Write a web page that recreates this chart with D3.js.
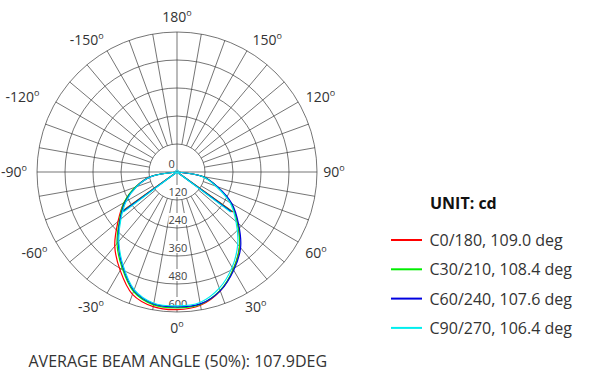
<!DOCTYPE html>
<html lang="en">
<head>
    <meta charset="UTF-8">
    <title>Polar Light Distribution</title>
    <script src="https://d3js.org/d3.v7.min.js"></script>
    <style>
        body { margin: 0; background: #fff; }
        svg { display: block; font-family: "Open Sans", sans-serif; }
        .grid { fill: none; stroke: #3a3a3a; stroke-width: 0.7; }
        .angle-label { font-size: 14px; fill: #333; }
        .ring-label { font-size: 11px; fill: #444; }
        .curve { fill: none; stroke-width: 1.2; }
    </style>
</head>
<body>
    <svg id="chart" width="591" height="387"></svg>

    <script>
        // angles (deg), 0 = straight down, positive to the right
        var angles = [-90, -80, -70, -60, -50, -40, -30, -20, -10, 0, 10, 20, 30, 40, 50, 60, 70, 80, 90];

        // intensity (cd) per C-plane
        var c0_180  = [0, 114, 189, 262, 330, 415, 487, 558, 586, 590, 580, 542, 482, 416, 338, 266, 182, 112, 0];
        var c30_210 = [0, 116, 190, 262, 322, 400, 472, 545, 578, 582, 576, 540, 482, 418, 338, 268, 183, 113, 0];
        var c60_240 = [0, 114, 186, 256, 318, 392, 466, 540, 574, 578, 574, 542, 486, 424, 344, 272, 184, 112, 0];
        var c90_270 = [0, 112, 184, 252, 314, 388, 462, 536, 571, 574, 568, 530, 472, 405, 330, 262, 178, 110, 0];

        var seriesNames = ["C0/180", "C30/210", "C60/240", "C90/270"];
        var beamAngles = [109.0, 108.4, 107.6, 106.4];
        var seriesColors = ["#ff0000", "#00ee00", "#0000e0", "#00eeee"];

        var ringValues = [0, 120, 240, 360, 480, 600];
        var angleTicks = [180, 150, 120, 90, 60, 30, 0, -30, -60, -90, -120, -150];
        var averageBeam = "107.9";

        var series = [c0_180, c30_210, c60_240, c90_270];

        var cx = 177, cy = 172;
        var svg = d3.select("#chart");
        var g = svg.append("g").attr("transform", "translate(" + cx + "," + cy + ")");

        var r = d3.scaleLinear().domain([0, 600]).range([0, 140]);
        // chart angle -> d3 radial angle (0 at top, clockwise)
        function rad(deg) { return (180 - deg) * Math.PI / 180; }
        function px(deg, rr) { return [rr * Math.sin(rad(deg)), -rr * Math.cos(rad(deg))]; }

        // rings
        g.selectAll(".ring")
            .data(ringValues.slice(1))
            .enter().append("circle")
            .attr("class", "grid")
            .attr("r", d => r(d));

        // spokes every 10 deg, axes go through the centre
        var spokes = d3.range(-170, 190, 10);
        g.selectAll(".spoke")
            .data(spokes)
            .enter().append("line")
            .attr("class", "grid")
            .attr("x1", d => px(d, d % 90 === 0 ? 0 : r(120))[0])
            .attr("y1", d => px(d, d % 90 === 0 ? 0 : r(120))[1])
            .attr("x2", d => px(d, r(600))[0])
            .attr("y2", d => px(d, r(600))[1]);

        // ring labels down the 0 axis
        var rl = g.selectAll(".rl")
            .data(ringValues)
            .enter().append("g");
        rl.append("text")
            .attr("class", "ring-label")
            .attr("x", -8.5)
            .attr("y", d => r(d) - 4.5)
            .text(d => d);
        rl.each(function() {
            var t = d3.select(this).select("text");
            var b = t.node().getBBox();
            d3.select(this).insert("rect", "text")
                .attr("x", b.x).attr("y", b.y + 1.5)
                .attr("width", b.width).attr("height", b.height - 3)
                .attr("fill", "#fff");
        });

        // angle labels (placement tweaks to follow the original)
        var labelPlace = {
            "180": [180, 155], "150": [145.7, 160], "120": [117.6, 162], "90": [90, 157],
            "60": [59.6, 161], "30": [30.3, 156], "0": [0, 156], "-30": [-32.5, 160],
            "-60": [-60.4, 164], "-90": [-90, 163], "-120": [-116, 172], "-150": [-145.6, 160]
        };
        var al = g.selectAll(".angle-label")
            .data(angleTicks)
            .enter().append("text")
            .attr("class", "angle-label")
            .attr("text-anchor", "middle")
            .attr("x", d => px(labelPlace[d][0], labelPlace[d][1])[0])
            .attr("y", d => px(labelPlace[d][0], labelPlace[d][1])[1] + 5);
        al.append("tspan").text(d => d);
        al.append("tspan").attr("font-size", "9px").attr("dy", -6).text("o");

        // curves
        var line = d3.lineRadial()
            .angle(d => rad(d[0]))
            .radius(d => r(d[1]))
            .curve(d3.curveCatmullRom);

        series.forEach(function(vals, i) {
            var pts = angles.map((a, j) => [a, vals[j]]);
            g.append("path")
                .attr("class", "curve")
                .attr("stroke", seriesColors[i])
                .attr("d", line(pts));

            // beam angle lines to the 50% points
            var half = d3.max(vals) / 2;
            [-beamAngles[i] / 2, beamAngles[i] / 2].forEach(function(a) {
                var p = px(a, r(half));
                g.append("line")
                    .attr("stroke", seriesColors[i])
                    .attr("stroke-width", 1.2)
                    .attr("x1", 0).attr("y1", 0)
                    .attr("x2", p[0]).attr("y2", p[1]);
            });
        });

        g.append("circle")
            .attr("r", 2)
            .attr("fill", "none")
            .attr("stroke", "#33ccdd")
            .attr("stroke-width", 1);

        // legend
        svg.append("text")
            .attr("x", 430)
            .attr("y", 208.5)
            .attr("font-size", "16px")
            .attr("font-weight", "bold")
            .attr("fill", "#111")
            .text("UNIT: cd");

        var leg = svg.selectAll(".legend")
            .data(seriesNames)
            .enter().append("g")
            .attr("transform", (d, i) => "translate(0," + (240 + i * 29.3) + ")");
        leg.append("line")
            .attr("x1", 391).attr("x2", 422)
            .attr("stroke", (d, i) => seriesColors[i])
            .attr("stroke-width", 2);
        leg.append("text")
            .attr("x", 429.5)
            .attr("y", 6)
            .attr("font-size", "16px")
            .attr("fill", "#333")
            .text((d, i) => d + ", " + beamAngles[i].toFixed(1) + " deg");

        // footer
        svg.append("text")
            .attr("x", 28.5)
            .attr("y", 366.5)
            .attr("font-size", "16px")
            .attr("fill", "#333")
            .text("AVERAGE BEAM ANGLE (50%): " + averageBeam + "DEG");
    </script>
</body>
</html>
